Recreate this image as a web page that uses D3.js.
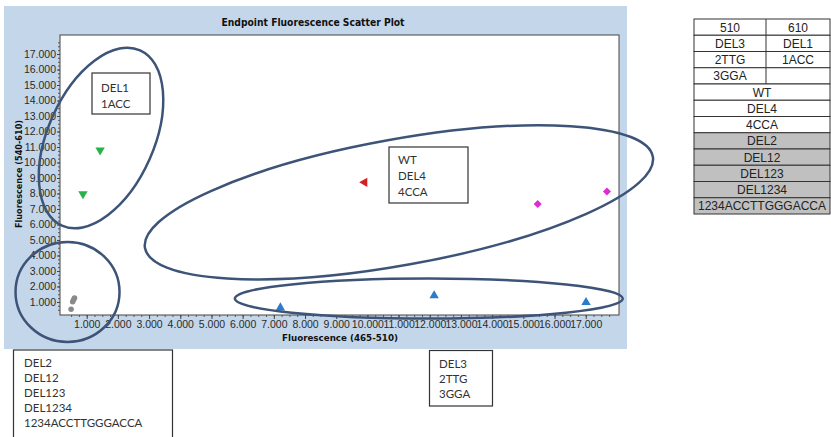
<!DOCTYPE html>
<html>
<head>
<meta charset="utf-8">
<script src="https://cdn.jsdelivr.net/npm/d3@7"></script>
<style>
  body { margin: 0; background: #fff; }
  svg { display: block; }
</style>
</head>
<body>
<div id="scatter"></div>
<script>
// values (x = 465-510, y = 540-610)
var greenX = [1430, 880];
var greenY = [10800, 7970];
var greyX = [610, 580, 550, 500];
var greyY = [1260, 1140, 1020, 530];
var redX = [9910];
var redY = [8720];
var magentaX = [15460, 17680];
var magentaY = [7320, 8120];
var blueX = [7210, 12140, 17010];
var blueY = [630, 1410, 980];

var xTicks = d3.range(1000, 18000, 1000);
var yTicks = d3.range(1000, 18000, 1000);

var tableHead = [["510", "610"], ["DEL3", "DEL1"], ["2TTG", "1ACC"], ["3GGA", ""]];
var tableMerged = ["WT", "DEL4", "4CCA", "DEL2", "DEL12", "DEL123", "DEL1234", "1234ACCTTGGGACCA"];

var svgWidth = 831;
var svgHeight = 437;

var margin = {
    top: 35,
    right: 212,
    bottom: 122,
    left: 60
};

var height = svgHeight - margin.top - margin.bottom;
var width = svgWidth - margin.left - margin.right;

var svg = d3.select("#scatter")
    .append("svg")
    .attr("height", svgHeight)
    .attr("width", svgWidth);

// blue chart panel
svg.append("rect")
    .attr("x", 4).attr("y", 6)
    .attr("width", 623).attr("height", 343)
    .attr("fill", "#c4d6e9");

svg.append("text")
    .attr("x", 313).attr("y", 26)
    .attr("text-anchor", "middle")
    .attr("font-family", "DejaVu Sans, Verdana, sans-serif")
    .attr("font-size", "10px")
    .attr("font-weight", "bold")
    .attr("fill", "#111")
    .attr("textLength", 183)
    .attr("lengthAdjust", "spacingAndGlyphs")
    .text("Endpoint Fluorescence Scatter Plot");

var chartGroup = svg.append("g")
    .attr("transform", `translate(${margin.left}, ${margin.top})`);

chartGroup.append("rect")
    .attr("width", width).attr("height", height)
    .attr("fill", "#fff")
    .attr("stroke", "#444")
    .attr("stroke-width", 1);

var xScale = d3.scaleLinear()
    .domain([144, 18067])
    .range([0, width]);

var yScale = d3.scaleLinear()
    .domain([160, 18225])
    .range([height, 0]);

var fmt = d3.formatLocale({decimal: ",", thousands: ".", grouping: [3], currency: ["", ""]}).format(",.0f");
var tickFmt = d => fmt(d / 1000) + ".000";

// minor ticks
chartGroup.append("g")
    .attr("transform", `translate(0, ${height})`)
    .call(d3.axisBottom(xScale).tickValues(d3.range(500, 18000, 250)).tickSize(2).tickFormat(""))
    .call(g => g.select(".domain").remove())
    .call(g => g.selectAll("line").attr("stroke", "#555"));
chartGroup.append("g")
    .call(d3.axisLeft(yScale).tickValues(d3.range(500, 18000, 250)).tickSize(2).tickFormat(""))
    .call(g => g.select(".domain").remove())
    .call(g => g.selectAll("line").attr("stroke", "#555"));

var bottomAxis = d3.axisBottom(xScale).tickValues(xTicks).tickSize(4).tickPadding(2).tickFormat(tickFmt);
var leftAxis = d3.axisLeft(yScale).tickValues(yTicks).tickSize(3).tickPadding(1).tickFormat(tickFmt);

chartGroup.append("g")
    .attr("transform", `translate(0, ${height})`)
    .call(bottomAxis)
    .call(g => g.select(".domain").remove())
    .call(g => g.selectAll("line").attr("stroke", "#444"))
    .call(g => g.selectAll("text")
        .attr("font-family", "Liberation Sans, Arial, sans-serif")
        .attr("font-size", "10.5px").attr("fill", "#2a2a2a"));

chartGroup.append("g")
    .call(leftAxis)
    .call(g => g.select(".domain").remove())
    .call(g => g.selectAll("line").attr("stroke", "#444"))
    .call(g => g.selectAll("text")
        .attr("font-family", "Liberation Sans, Arial, sans-serif")
        .attr("font-size", "10.5px").attr("fill", "#2a2a2a"));

chartGroup.append("text")
    .attr("transform", "rotate(-90)")
    .attr("x", -(174 - margin.top))
    .attr("y", 22 - margin.left)
    .attr("text-anchor", "middle")
    .attr("font-family", "DejaVu Sans, Verdana, sans-serif")
    .attr("font-size", "9.5px")
    .attr("font-weight", "bold")
    .attr("fill", "#111")
    .attr("textLength", 108)
    .attr("lengthAdjust", "spacingAndGlyphs")
    .text("Fluorescence (540-610)");

chartGroup.append("text")
    .attr("x", 340 - margin.left)
    .attr("y", 341 - margin.top)
    .attr("text-anchor", "middle")
    .attr("font-family", "DejaVu Sans, Verdana, sans-serif")
    .attr("font-size", "9.5px")
    .attr("font-weight", "bold")
    .attr("fill", "#111")
    .attr("textLength", 116)
    .attr("lengthAdjust", "spacingAndGlyphs")
    .text("Fluorescence (465-510)");

// points
function drawSeries(xs, ys, shape, rotate, size, color) {
    var pts = xs.map((x, i) => ({x: x, y: ys[i]}));
    chartGroup.append("g").selectAll("path")
        .data(pts)
        .enter()
        .append("path")
        .attr("d", d3.symbol().type(shape).size(size))
        .attr("transform", d => `translate(${xScale(d.x)}, ${yScale(d.y)}) rotate(${rotate})`)
        .attr("fill", color);
}
drawSeries(greenX, greenY, d3.symbolTriangle, 180, 38, "#27b24a");
drawSeries(greyX, greyY, d3.symbolCircle, 0, 24, "#8a8a8a");
drawSeries(redX, redY, d3.symbolTriangle, -90, 38, "#d42020");
drawSeries(magentaX, magentaY, d3.symbolSquare, 45, 32, "#e02ad2");
drawSeries(blueX, blueY, d3.symbolTriangle, 0, 38, "#2a7ccc");

// hand drawn group ellipses, centres in data units
var groupEllipses = [
    {cx: 1460, cy: 11580, rx: 96, ry: 53, angle: -66},
    {cx: 385, cy: 1650, rx: 52, ry: 50, angle: 0},
    {cx: 11010, cy: 7430, rx: 258, ry: 63, angle: -10.2},
    {cx: 11970, cy: 1220, rx: 194, ry: 20, angle: 0}
];
chartGroup.append("g").selectAll("ellipse")
    .data(groupEllipses)
    .enter()
    .append("ellipse")
    .attr("transform", d => `translate(${xScale(d.cx)}, ${yScale(d.cy)}) rotate(${d.angle})`)
    .attr("rx", d => d.rx)
    .attr("ry", d => d.ry)
    .attr("fill", "none")
    .attr("stroke", "#3d5478")
    .attr("stroke-width", 2.5);

// label boxes
var boxes = [
    {x: 92, y: 73, w: 58, h: 41, lines: ["DEL1", "1ACC"], tx: 101, ty: 92, lh: 16},
    {x: 389, y: 147, w: 79, h: 56, lines: ["WT", "DEL4", "4CCA"], tx: 398, ty: 164, lh: 16},
    {x: 13.5, y: 350, w: 159, h: 100, lines: ["DEL2", "DEL12", "DEL123", "DEL1234", "1234ACCTTGGGACCA"], tx: 24, ty: 367, lh: 15},
    {x: 429.5, y: 350.5, w: 63, h: 55.5, lines: ["DEL3", "2TTG", "3GGA"], tx: 439, ty: 368, lh: 15}
];
var boxG = svg.append("g").selectAll("g")
    .data(boxes)
    .enter()
    .append("g");
boxG.append("rect")
    .attr("x", d => d.x).attr("y", d => d.y)
    .attr("width", d => d.w).attr("height", d => d.h)
    .attr("fill", "#fff")
    .attr("stroke", "#333")
    .attr("stroke-width", 1.2);
boxG.each(function(d) {
    d3.select(this).selectAll("text")
        .data(d.lines)
        .enter()
        .append("text")
        .attr("x", d.tx)
        .attr("y", (t, i) => d.ty + i * d.lh)
        .attr("font-family", "Lato, Noto Sans, sans-serif")
        .attr("font-size", "11.5px")
        .attr("fill", "#333")
        .text(t => t);
});

// table on the right
var tX = 694, tW = 136, tMid = 766, tTop = 19, rowH = 16.25;
var tableG = svg.append("g");
var allRows = tableHead.map(r => ({cells: r, grey: false}))
    .concat(tableMerged.map((r, i) => ({cells: [r], grey: i >= 3})));
allRows.forEach((r, i) => {
    var y = tTop + i * rowH;
    tableG.append("rect")
        .attr("x", tX).attr("y", y)
        .attr("width", tW).attr("height", rowH)
        .attr("fill", r.grey ? "#c0c0c0" : "#fff")
        .attr("stroke", "#333").attr("stroke-width", 1);
    if (r.cells.length === 2) {
        tableG.append("line")
            .attr("x1", tMid).attr("x2", tMid)
            .attr("y1", y).attr("y2", y + rowH)
            .attr("stroke", "#333");
    }
    r.cells.forEach((c, j) => {
        var cx = r.cells.length === 2 ? (j === 0 ? (tX + tMid) / 2 : (tMid + tX + tW) / 2) : tX + tW / 2;
        tableG.append("text")
            .attr("x", cx).attr("y", y + 12.5)
            .attr("text-anchor", "middle")
            .attr("font-family", "Liberation Sans, Arial, sans-serif")
            .attr("font-size", "12px")
            .attr("fill", "#222")
            .text(c);
    });
});
</script>
</body>
</html>
